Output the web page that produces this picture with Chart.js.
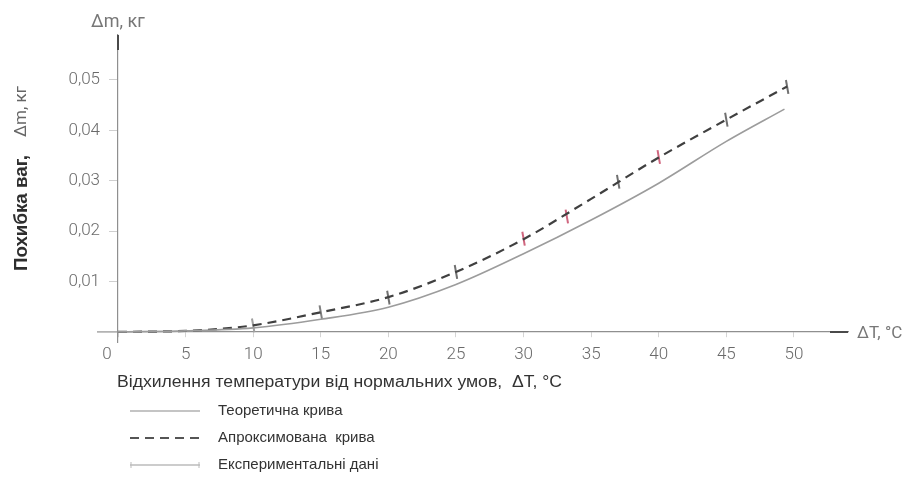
<!DOCTYPE html>
<html>
<head>
<meta charset="utf-8">
<script src="https://cdn.jsdelivr.net/npm/chart.js@4"></script>
<style>
  html, body { margin: 0; padding: 0; background: #fff; }
  #wrap { width: 920px; height: 493px; position: relative; }
</style>
</head>
<body>
<div id="wrap"><canvas id="c" width="920" height="493"></canvas></div>
<script>
// Temperature deviation, °C, and scale error, kg
const theoryT   = [0, 5, 10, 15, 20, 25, 30, 35, 40, 45, 49.3];
const theoryDm  = [0, 0.0002, 0.0008, 0.0025, 0.0049, 0.0094, 0.0155, 0.0222, 0.0295, 0.0378, 0.0442];

const approxT   = [0, 5, 7.5, 10, 15, 20, 25, 30, 35, 40, 45, 49.5];
const approxDm  = [0, 0.0002, 0.0006, 0.0013, 0.0039, 0.0069, 0.0119, 0.0184, 0.0264, 0.0346, 0.0421, 0.0487];

const expT      = [10, 15, 20, 25, 30, 33.2, 37, 40, 45, 49.5];
const expDm     = [0.0013, 0.0039, 0.0068, 0.0119, 0.0185, 0.0229, 0.0298, 0.0347, 0.0421, 0.0486];

const xTicks    = [0, 5, 10, 15, 20, 25, 30, 35, 40, 45, 50];
const yTicks    = [0.01, 0.02, 0.03, 0.04, 0.05];

const seriesNames = ['Теоретична крива', 'Апроксимована  крива', 'Експериментальні дані'];
const yTitleBold  = 'Похибка ваг,';
const yTitleUnit  = 'Δm, кг';
const yAxisLabel  = 'Δm, кг';
const xAxisLabel  = 'ΔT, °C';
const xTitle      = 'Відхилення температури від нормальних умов,  ΔT, °C';

const toPts = (xs, ys) => xs.map((x, i) => ({ x, y: ys[i] }));

const TICKFONT = "Roboto, 'Liberation Sans', sans-serif";
const SANS = "'Liberation Sans', Arial, sans-serif";

const decor = {
  id: 'decor',
  afterDraw(chart) {
    const { ctx } = chart;
    const xs = chart.scales.x, ys = chart.scales.y;
    const x0 = xs.getPixelForValue(0);
    const y0 = ys.getPixelForValue(0);
    const area = chart.chartArea;
    ctx.save();

    // horizontal axis continues a little to the left of the origin
    ctx.strokeStyle = '#8f8f8f';
    ctx.lineWidth = 1.2;
    ctx.beginPath();
    ctx.moveTo(x0 - 21, y0); ctx.lineTo(x0, y0);
    ctx.stroke();

    // darker ends of the axes
    ctx.strokeStyle = '#4a4a4a';
    ctx.lineWidth = 2;
    ctx.beginPath();
    ctx.moveTo(x0, area.top); ctx.lineTo(x0, area.top + 15);
    ctx.moveTo(area.right - 18, y0); ctx.lineTo(area.right, y0);
    ctx.stroke();

    // origin label, set off to the left of the vertical axis
    ctx.fillStyle = '#6a6a6a';
    ctx.font = '300 17px ' + TICKFONT;
    ctx.textAlign = 'center';
    ctx.textBaseline = 'middle';
    ctx.fillText('0', x0 - 11, y0 + 23);

    // axis end labels
    ctx.fillStyle = '#777';
    ctx.font = '18px ' + TICKFONT;
    ctx.textAlign = 'center';
    ctx.fillText(yAxisLabel, x0, 22);
    ctx.font = '17px ' + TICKFONT;
    ctx.textAlign = 'left';
    ctx.fillText(xAxisLabel, area.right + 9, y0 + 2);

    // vertical title
    ctx.save();
    ctx.translate(22, 271);
    ctx.rotate(-Math.PI / 2);
    ctx.textAlign = 'left';
    ctx.textBaseline = 'middle';
    ctx.fillStyle = '#2e2e2e';
    ctx.font = 'bold 19px ' + SANS;
    const bw = ctx.measureText(yTitleBold).width;
    ctx.save();
    ctx.scale(116 / bw, 1);
    ctx.fillText(yTitleBold, 0, 0);
    ctx.restore();
    ctx.fillStyle = '#666';
    ctx.font = '17px ' + TICKFONT;
    ctx.fillText(yTitleUnit, 134, 0);
    ctx.restore();

    // horizontal title
    ctx.fillStyle = '#333';
    ctx.font = '16px ' + SANS;
    ctx.textAlign = 'left';
    ctx.textBaseline = 'middle';
    const tw = ctx.measureText(xTitle).width;
    ctx.save();
    ctx.translate(117, 383);
    ctx.scale(445 / tw, 1);
    ctx.fillText(xTitle, 0, 0);
    ctx.restore();

    // legend
    const ds = chart.data.datasets;
    const rows = [411, 438, 465];
    ctx.font = '15px ' + SANS;
    ds.forEach((d, i) => {
      const y = rows[i];
      ctx.save();
      ctx.lineWidth = d.legendWidth;
      ctx.strokeStyle = d.legendColor;
      ctx.setLineDash(d.borderDash || []);
      ctx.beginPath();
      ctx.moveTo(130, y); ctx.lineTo(200, y);
      ctx.stroke();
      if (d.showLine === false) {
        ctx.setLineDash([]);
        ctx.lineWidth = 1;
        ctx.beginPath();
        ctx.moveTo(131, y - 3); ctx.lineTo(131, y + 3);
        ctx.moveTo(199, y - 3); ctx.lineTo(199, y + 3);
        ctx.stroke();
      }
      ctx.restore();
      ctx.fillStyle = '#333';
      ctx.textAlign = 'left';
      ctx.textBaseline = 'middle';
      ctx.fillText(d.label, 218, y);
    });
    ctx.restore();
  }
};

const expColors = ['#a0a0a0', '#808080', '#707070', '#707070', '#d0667f', '#d0667f', '#707070', '#d0667f', '#707070', '#707070'];

new Chart(document.getElementById('c'), {
  type: 'scatter',
  data: {
    datasets: [
      {
        label: seriesNames[0],
        data: toPts(theoryT, theoryDm),
        showLine: true,
        borderColor: '#9c9c9c',
        borderWidth: 1.6,
        pointRadius: 0,
        cubicInterpolationMode: 'monotone',
        legendColor: '#b0b0b0',
        legendWidth: 1.5
      },
      {
        label: seriesNames[1],
        data: toPts(approxT, approxDm),
        showLine: true,
        borderColor: '#404040',
        borderWidth: 2.2,
        borderDash: [9, 6],
        pointRadius: 0,
        cubicInterpolationMode: 'monotone',
        legendColor: '#555',
        legendWidth: 1.8
      },
      {
        label: seriesNames[2],
        data: toPts(expT, expDm),
        showLine: false,
        pointStyle: 'line',
        rotation: 80,
        radius: 7,
        pointBorderWidth: 2,
        pointBorderColor: expColors,
        pointBackgroundColor: expColors,
        legendColor: '#bbb',
        legendWidth: 1.5
      }
    ]
  },
  options: {
    responsive: false,
    animation: false,
    events: [],
    layout: { padding: { left: 0, top: 35, right: 72, bottom: 151 } },
    plugins: { legend: { display: false }, tooltip: { enabled: false } },
    scales: {
      x: {
        type: 'linear',
        position: { y: 0 },
        min: 0,
        max: 54,
        afterBuildTicks: s => { s.ticks = xTicks.map(v => ({ value: v })); },
        ticks: {
          callback: v => (v === 0 ? '' : String(v)),
          color: '#6a6a6a',
          font: { family: TICKFONT, size: 17, weight: '300' },
          padding: 8,
          maxRotation: 0
        },
        grid: { drawOnChartArea: false, drawTicks: true, tickLength: 5, color: '#d4d4d4' },
        border: { display: true, color: '#8f8f8f', width: 1.2 }
      },
      y: {
        type: 'linear',
        position: 'left',
        min: -0.002,
        max: 0.0589,
        afterFit: s => { s.width = 118; },
        afterBuildTicks: s => { s.ticks = yTicks.map(v => ({ value: v })); },
        ticks: {
          callback: v => v.toFixed(2).replace('.', ','),
          color: '#6a6a6a',
          font: { family: TICKFONT, size: 17, weight: '300' },
          padding: 9
        },
        grid: { drawOnChartArea: false, drawTicks: true, tickLength: 9, color: '#cfcfcf' },
        border: { display: true, color: '#8f8f8f', width: 1.2 }
      }
    }
  },
  plugins: [decor]
});
</script>
</body>
</html>
